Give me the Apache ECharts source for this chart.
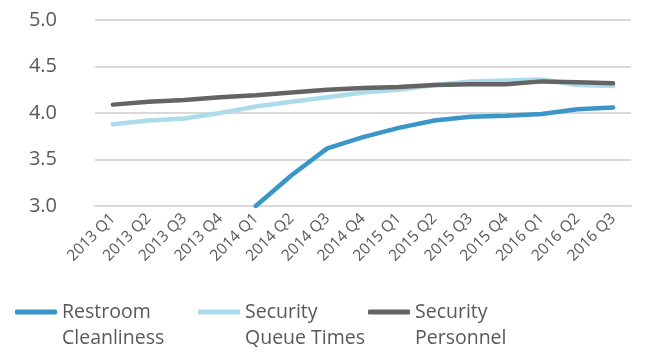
<!DOCTYPE html>
<html>
<head>
<meta charset="utf-8">
<script src="https://cdn.jsdelivr.net/npm/echarts@6/dist/echarts.min.js"></script>
<style>
  html, body { margin: 0; padding: 0; background: #fff; }
  #main { width: 671px; height: 353px; }
</style>
</head>
<body>
<div id="main"></div>
<script>
  // 数据
  var quarters = ['2013 Q1','2013 Q2','2013 Q3','2013 Q4','2014 Q1','2014 Q2','2014 Q3','2014 Q4',
                  '2015 Q1','2015 Q2','2015 Q3','2015 Q4','2016 Q1','2016 Q2','2016 Q3']
  var restroom = [null, null, null, null, 3.00, 3.33, 3.62, 3.74, 3.84, 3.92, 3.96, 3.97, 3.99, 4.04, 4.06]
  var queueTimes = [3.88, 3.92, 3.94, 4.00, 4.07, 4.12, 4.17, 4.22, 4.25, 4.30, 4.34, 4.35, 4.36, 4.30, 4.29]
  var personnel = [4.09, 4.12, 4.14, 4.17, 4.19, 4.22, 4.25, 4.27, 4.28, 4.30, 4.31, 4.31, 4.34, 4.33, 4.32]
  var yTicks = [3.0, 3.5, 4.0, 4.5, 5.0]

  var names = ['Restroom\nCleanliness', 'Security\nQueue Times', 'Security\nPersonnel']
  var colors = ['#3a96c8', '#acdcec', '#646464']
  var font = '"Open Sans", sans-serif'
  var grey = '#595959'

  var myChart = echarts.init(document.getElementById('main'))

  // 图例: 图标对齐第一行文字
  function legendAt(left, name) {
    return {
      left: left,
      top: 268,
      data: [name],
      icon: 'roundRect',
      itemWidth: 42,
      itemHeight: 5,
      itemGap: 0,
      formatter: function (n) { return ' \n' + n },
      textStyle: {
        fontFamily: font,
        fontSize: 19.5,
        color: grey,
        lineHeight: 26
      }
    }
  }

  function lineSeries(i, data) {
    return {
      name: names[i],
      type: 'line',
      data: data,
      showSymbol: false,
      symbol: 'none',
      connectNulls: false,
      lineStyle: { width: 4.5, color: colors[i], cap: 'round', join: 'round' },
      itemStyle: { color: colors[i] }
    }
  }

  var option = {
    animation: false,
    backgroundColor: '#fff',
    grid: { left: 95, right: 40, top: 20, bottom: 147 },
    legend: [legendAt(10, names[0]), legendAt(193, names[1]), legendAt(363, names[2])],
    xAxis: {
      type: 'category',
      data: quarters,
      boundaryGap: true,
      axisLine: { lineStyle: { color: '#d9d9d9', width: 2 } },
      axisTick: { show: false },
      axisLabel: {
        rotate: 45,
        interval: 0,
        margin: 10,
        fontFamily: font,
        fontSize: 15.5,
        color: grey
      }
    },
    yAxis: {
      type: 'value',
      min: yTicks[0],
      max: yTicks[yTicks.length - 1],
      interval: 0.5,
      axisLine: { show: false },
      axisTick: { show: false },
      splitLine: { lineStyle: { color: '#d9d9d9', width: 2 } },
      axisLabel: {
        margin: 38,
        fontFamily: font,
        fontSize: 20,
        color: grey,
        formatter: function (v) { return v.toFixed(1) }
      }
    },
    series: [
      lineSeries(0, restroom),
      lineSeries(1, queueTimes),
      lineSeries(2, personnel)
    ]
  }

  myChart.setOption(option)
</script>
</body>
</html>
